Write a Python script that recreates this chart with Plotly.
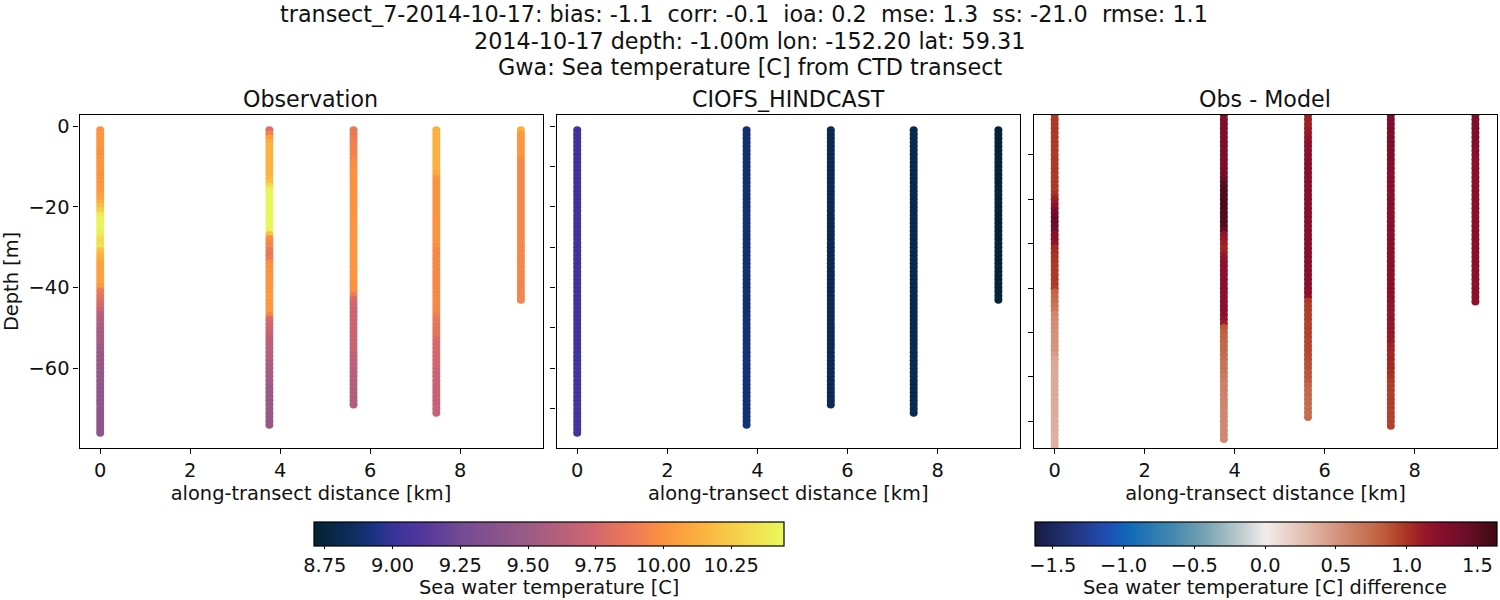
import plotly.graph_objects as go

FONT = "DejaVu Sans"

title_lines = [
    "transect_7-2014-10-17: bias: -1.1  corr: -0.1  ioa: 0.2  mse: 1.3  ss: -21.0  rmse: 1.1",
    "2014-10-17 depth: -1.00m lon: -152.20 lat: 59.31",
    "Gwa: Sea temperature [C] from CTD transect",
]
panel_titles = ["Observation", "CIOFS_HINDCAST", "Obs - Model"]
colorbar_titles = ["Sea water temperature [C]", "Sea water temperature [C] difference"]

# cmocean thermal and balance, sampled by eye off the colorbars
thermal = [
    [0.0, "#042333"], [0.08, "#0e2d5c"], [0.13, "#1b3384"], [0.17, "#38339a"], [0.24, "#55399b"],
    [0.31, "#724a95"], [0.38, "#86528e"], [0.455, "#9c5b86"], [0.53, "#b9607c"], [0.594, "#d0666f"],
    [0.64, "#e27260"], [0.68, "#ee7a56"], [0.743, "#fc9240"], [0.82, "#fbb03f"], [0.89, "#f8cc48"],
    [1.0, "#e8fa5b"],
]
balance = [
    [0.0, "#181c43"], [0.1, "#253a8a"], [0.16, "#1e4fb8"], [0.2, "#0f68b8"], [0.3, "#4589ae"],
    [0.37, "#77a4b4"], [0.44, "#b8c9cd"], [0.5, "#f1ecec"], [0.58, "#e3c0b2"], [0.66, "#d2907a"],
    [0.75, "#c0603f"], [0.805, "#aa3322"], [0.835, "#9c1d27"], [0.867, "#8c0f2c"], [0.93, "#6e0e2a"],
    [1.0, "#3c0912"],
]

x_ticks = [0, 2, 4, 6, 8]
y_ticks = [0, -20, -40, -60]
y_ticks_model = [0, -10, -20, -30, -40, -50, -60, -70]
y_ticks_diff = [-10, -20, -30, -40, -50, -60, -70]
temp_ticks = [8.75, 9.0, 9.25, 9.5, 9.75, 10.0, 10.25]
temp_labels = ["8.75", "9.00", "9.25", "9.50", "9.75", "10.00", "10.25"]
diff_ticks = [-1.5, -1.0, -0.5, 0.0, 0.5, 1.0, 1.5]
diff_labels = ["\u22121.5", "\u22121.0", "\u22120.5", "0.0", "0.5", "1.0", "1.5"]

distance = [0.0, 3.76, 5.63, 7.47, 9.35]
depth = [
    -1, -2, -3, -4, -5, -6, -7, -8, -9, -10, -11, -12, -13, -14, -15, -16, -17, -18, -19, -20,
    -21, -22, -23, -24, -25, -26, -27, -28, -29, -30, -31, -32, -33, -34, -35, -36, -37, -38, -39, -40,
    -41, -42, -43, -44, -45, -46, -47, -48, -49, -50, -51, -52, -53, -54, -55, -56, -57, -58, -59, -60,
    -61, -62, -63, -64, -65, -66, -67, -68, -69, -70, -71, -72, -73, -74, -75, -76,
]

obs_0 = [
    10.0, 10.01, 10.02, 10.02, 10.01, 10.0, 10.0, 10.01, 10.02, 10.02, 10.01, 10.0, 10.0, 10.01, 10.02, 10.03, 10.05, 10.08, 10.12, 10.18,
    10.25, 10.36, 10.42, 10.43, 10.43, 10.42, 10.4, 10.33, 10.32, 10.36, 10.2, 10.14, 10.12, 10.08, 10.07, 10.07, 10.07, 10.07, 10.06, 10.02,
    9.88, 9.85, 9.82, 9.77, 9.74, 9.68, 9.62, 9.6, 9.58, 9.57, 9.56, 9.55, 9.55, 9.54, 9.5, 9.48, 9.47, 9.47, 9.46, 9.46,
    9.45, 9.45, 9.45, 9.45, 9.44, 9.44, 9.44, 9.44, 9.43, 9.43, 9.43, 9.43, 9.42, 9.42, 9.41, 9.41,
]
obs_1 = [
    9.8, 9.92, 10.05, 10.12, 10.15, 10.16, 10.16, 10.15, 10.15, 10.15, 10.15, 10.15, 10.17, 10.2, 10.32, 10.42, 10.43, 10.43, 10.43, 10.43,
    10.43, 10.43, 10.43, 10.43, 10.42, 10.42, 10.2, 9.98, 9.96, 9.94, 9.88, 9.87, 9.9, 9.98, 10.0, 10.01, 10.01, 10.01, 10.01, 10.03,
    10.03, 10.04, 10.04, 10.03, 10.03, 10.02, 9.95, 9.78, 9.75, 9.74, 9.72, 9.68, 9.66, 9.65, 9.64, 9.63, 9.62, 9.6, 9.58, 9.56,
    9.55, 9.54, 9.53, 9.52, 9.5, 9.5, 9.49, 9.49, 9.48, 9.48, 9.47, 9.47, 9.47, 9.47,
]
obs_2 = [
    9.86, 9.87, 9.88, 9.92, 9.92, 9.92, 9.93, 9.94, 9.97, 9.98, 9.99, 10.0, 10.0, 10.0, 10.0, 10.0, 10.0, 10.0, 10.0, 10.0,
    10.0, 10.0, 10.01, 10.01, 10.01, 10.01, 10.01, 10.02, 10.02, 10.02, 10.02, 10.02, 10.02, 10.02, 10.01, 10.01, 10.01, 10.01, 10.0, 10.0,
    9.98, 9.9, 9.78, 9.75, 9.73, 9.72, 9.72, 9.72, 9.72, 9.71, 9.71, 9.71, 9.7, 9.7, 9.7, 9.68, 9.67, 9.66, 9.65, 9.64,
    9.63, 9.62, 9.62, 9.61, 9.61, 9.6, 9.6, 9.6, 9.6,
]
obs_3 = [
    10.13, 10.13, 10.13, 10.13, 10.13, 10.13, 10.13, 10.13, 10.13, 10.13, 10.12, 10.1, 10.03, 10.0, 10.0, 10.0, 10.0, 10.0, 10.0, 10.0,
    10.0, 10.0, 10.0, 10.0, 10.0, 10.0, 10.0, 10.0, 10.0, 9.98, 9.96, 9.96, 9.96, 9.96, 9.96, 9.96, 9.96, 9.96, 9.96, 9.96,
    9.96, 9.96, 9.96, 9.96, 9.95, 9.95, 9.92, 9.87, 9.86, 9.85, 9.85, 9.84, 9.78, 9.77, 9.76, 9.76, 9.75, 9.75, 9.74, 9.73,
    9.71, 9.7, 9.7, 9.7, 9.69, 9.69, 9.69, 9.69, 9.68, 9.68, 9.68,
]
obs_4 = [
    10.13, 10.04, 10.03, 10.03, 10.02, 10.02, 10.02, 10.0, 9.96, 9.95, 9.95, 9.95, 9.95, 9.95, 9.95, 9.95, 9.95, 9.95, 9.95, 9.95,
    9.95, 9.95, 9.95, 9.95, 9.95, 9.95, 9.95, 9.95, 9.95, 9.95, 9.95, 9.95, 9.95, 9.95, 9.95, 9.95, 9.95, 9.94, 9.94, 9.94,
    9.94, 9.94, 9.94,
]
obs_values = [obs_0, obs_1, obs_2, obs_3, obs_4]

model_0 = [
    9.03, 9.03, 9.03, 9.03, 9.03, 9.03, 9.03, 9.03, 9.03, 9.03, 9.03, 9.03, 9.03, 9.03, 9.03, 9.03, 9.03, 9.03, 9.03, 9.03,
    9.03, 9.03, 9.03, 9.03, 9.03, 9.03, 9.03, 9.03, 9.03, 9.03, 9.03, 9.03, 9.03, 9.03, 9.03, 9.03, 9.03, 9.03, 9.03, 9.03,
    9.03, 9.03, 9.03, 9.03, 9.04, 9.04, 9.04, 9.04, 9.04, 9.04, 9.04, 9.04, 9.04, 9.04, 9.04, 9.04, 9.04, 9.04, 9.05, 9.05,
    9.05, 9.05, 9.05, 9.05, 9.05, 9.05, 9.05, 9.05, 9.05, 9.05, 9.05, 9.05, 9.05, 9.05, 9.05, 9.05,
]
model_1 = [
    8.89, 8.89, 8.89, 8.89, 8.89, 8.89, 8.89, 8.89, 8.89, 8.89, 8.89, 8.89, 8.89, 8.89, 8.89, 8.89, 8.89, 8.89, 8.89, 8.89,
    8.89, 8.89, 8.89, 8.89, 8.89, 8.89, 8.89, 8.89, 8.89, 8.89, 8.89, 8.89, 8.89, 8.89, 8.89, 8.89, 8.89, 8.89, 8.89, 8.89,
    8.89, 8.89, 8.89, 8.89, 8.89, 8.89, 8.89, 8.9, 8.9, 8.9, 8.9, 8.9, 8.9, 8.9, 8.9, 8.9, 8.9, 8.9, 8.9, 8.9,
    8.9, 8.9, 8.9, 8.9, 8.9, 8.9, 8.9, 8.9, 8.9, 8.9, 8.9, 8.9, 8.9, 8.9,
]
model_2 = [
    8.81, 8.81, 8.81, 8.81, 8.81, 8.81, 8.81, 8.81, 8.81, 8.81, 8.81, 8.81, 8.81, 8.81, 8.81, 8.81, 8.81, 8.81, 8.81, 8.81,
    8.81, 8.81, 8.81, 8.81, 8.81, 8.81, 8.81, 8.81, 8.81, 8.81, 8.81, 8.81, 8.81, 8.81, 8.81, 8.81, 8.81, 8.81, 8.81, 8.81,
    8.81, 8.81, 8.82, 8.82, 8.82, 8.82, 8.82, 8.82, 8.82, 8.82, 8.82, 8.82, 8.82, 8.82, 8.82, 8.82, 8.82, 8.82, 8.82, 8.82,
    8.82, 8.82, 8.82, 8.82, 8.82, 8.82, 8.82, 8.82, 8.82,
]
model_3 = [
    8.8, 8.8, 8.8, 8.8, 8.8, 8.8, 8.8, 8.8, 8.8, 8.8, 8.8, 8.8, 8.8, 8.8, 8.8, 8.8, 8.8, 8.8, 8.8, 8.8,
    8.8, 8.8, 8.8, 8.8, 8.8, 8.8, 8.8, 8.8, 8.8, 8.8, 8.8, 8.8, 8.8, 8.8, 8.8, 8.8, 8.8, 8.8, 8.8, 8.8,
    8.8, 8.8, 8.8, 8.8, 8.8, 8.8, 8.8, 8.8, 8.8, 8.8, 8.8, 8.8, 8.81, 8.81, 8.81, 8.81, 8.81, 8.81, 8.81, 8.81,
    8.81, 8.81, 8.81, 8.81, 8.81, 8.81, 8.81, 8.81, 8.81, 8.81, 8.81,
]
model_4 = [
    8.73, 8.73, 8.73, 8.73, 8.73, 8.73, 8.73, 8.73, 8.73, 8.73, 8.73, 8.73, 8.73, 8.73, 8.73, 8.73, 8.73, 8.73, 8.73, 8.73,
    8.73, 8.73, 8.73, 8.73, 8.73, 8.73, 8.73, 8.73, 8.73, 8.73, 8.73, 8.73, 8.73, 8.73, 8.73, 8.73, 8.73, 8.73, 8.73, 8.73,
    8.73, 8.73, 8.73,
]
model_values = [model_0, model_1, model_2, model_3, model_4]

diff_0 = [
    0.97, 0.97, 0.97, 0.97, 0.97, 0.97, 0.97, 0.97, 0.97, 0.97, 0.97, 0.97, 0.97, 0.97, 0.97, 0.97, 0.98, 0.98, 1.0, 1.08,
    1.15, 1.22, 1.36, 1.42, 1.45, 1.42, 1.36, 1.22, 1.2, 1.18, 1.05, 1.03, 1.0, 0.98, 0.98, 0.97, 0.97, 0.97, 0.97, 0.96,
    0.78, 0.76, 0.74, 0.7, 0.66, 0.58, 0.56, 0.54, 0.53, 0.52, 0.51, 0.5, 0.5, 0.49, 0.47, 0.41, 0.4, 0.39, 0.39, 0.38,
    0.38, 0.38, 0.38, 0.38, 0.37, 0.37, 0.37, 0.37, 0.36, 0.36, 0.36, 0.36, 0.35, 0.35, 0.35, 0.35,
]
diff_1 = [
    1.25, 1.27, 1.3, 1.3, 1.3, 1.3, 1.3, 1.3, 1.3, 1.31, 1.32, 1.32, 1.32, 1.33, 1.36, 1.45, 1.52, 1.54, 1.55, 1.55,
    1.55, 1.55, 1.55, 1.55, 1.54, 1.53, 1.45, 1.16, 1.12, 1.08, 1.05, 1.08, 1.15, 1.19, 1.2, 1.2, 1.2, 1.2, 1.2, 1.2,
    1.2, 1.2, 1.2, 1.2, 1.2, 1.19, 1.15, 1.1, 0.85, 0.82, 0.8, 0.78, 0.77, 0.76, 0.75, 0.72, 0.7, 0.69, 0.68, 0.66,
    0.63, 0.62, 0.62, 0.61, 0.6, 0.6, 0.59, 0.58, 0.58, 0.58, 0.57, 0.57, 0.57, 0.57,
]
diff_2 = [
    1.08, 1.08, 1.08, 1.09, 1.12, 1.15, 1.18, 1.2, 1.2, 1.21, 1.22, 1.22, 1.22, 1.22, 1.22, 1.22, 1.22, 1.22, 1.22, 1.22,
    1.22, 1.22, 1.22, 1.22, 1.22, 1.22, 1.22, 1.22, 1.22, 1.22, 1.22, 1.22, 1.22, 1.22, 1.22, 1.22, 1.22, 1.22, 1.22, 1.21,
    1.2, 1.18, 0.98, 0.96, 0.95, 0.95, 0.95, 0.94, 0.94, 0.93, 0.93, 0.92, 0.92, 0.92, 0.91, 0.9, 0.88, 0.87, 0.86, 0.85,
    0.84, 0.78, 0.77, 0.76, 0.75, 0.75, 0.74, 0.74, 0.74,
]
diff_3 = [
    1.3, 1.3, 1.3, 1.3, 1.3, 1.3, 1.3, 1.3, 1.3, 1.3, 1.28, 1.24, 1.22, 1.22, 1.22, 1.22, 1.22, 1.22, 1.22, 1.22,
    1.22, 1.22, 1.21, 1.21, 1.21, 1.21, 1.21, 1.21, 1.21, 1.21, 1.2, 1.2, 1.2, 1.2, 1.2, 1.2, 1.2, 1.2, 1.2, 1.2,
    1.2, 1.2, 1.18, 1.16, 1.15, 1.15, 1.15, 1.15, 1.14, 1.14, 1.13, 1.12, 1.08, 1.06, 1.05, 1.05, 1.04, 1.04, 1.02, 1.0,
    0.97, 0.96, 0.96, 0.95, 0.95, 0.95, 0.95, 0.94, 0.94, 0.94, 0.94,
]
diff_4 = [
    1.28, 1.28, 1.28, 1.28, 1.28, 1.28, 1.28, 1.26, 1.22, 1.21, 1.2, 1.2, 1.2, 1.2, 1.2, 1.2, 1.2, 1.2, 1.2, 1.2,
    1.2, 1.2, 1.2, 1.2, 1.2, 1.2, 1.2, 1.2, 1.2, 1.2, 1.2, 1.2, 1.2, 1.2, 1.2, 1.2, 1.2, 1.2, 1.2, 1.2,
    1.2, 1.2, 1.2,
]
diff_values = [diff_0, diff_1, diff_2, diff_3, diff_4]

panel_values = [obs_values, model_values, diff_values]
panel_axes = ["coloraxis", "coloraxis", "coloraxis2"]

fig = go.Figure()

for p, profiles in enumerate(panel_values):
    suffix = "" if p == 0 else str(p + 1)
    for dist, vals in zip(distance, profiles):
        fig.add_trace(go.Scatter(
            x=[dist] * len(vals),
            y=depth[:len(vals)],
            mode="markers",
            xaxis="x" + suffix,
            yaxis="y" + suffix,
            showlegend=False,
            marker=dict(size=8, color=vals, coloraxis=panel_axes[p], line=dict(width=0)),
            hovertemplate="%{x} km, %{y} m: %{marker.color}<extra></extra>",
        ))


def x_axis(left, right):
    return dict(
        domain=[left / 1500, right / 1500],
        range=[-0.46, 9.83],
        tickvals=x_ticks,
        ticks="outside", ticklen=5, tickwidth=1, tickcolor="black",
        showline=True, mirror=True, linecolor="black", linewidth=1.2,
        showgrid=False, zeroline=False,
        tickfont=dict(size=19.4, color="#111"),
        title=dict(text="along-transect distance [km]", font=dict(size=19.4, color="#111"), standoff=2),
    )


def y_axis(yrange, ticks, labels=False):
    return dict(
        domain=[1 - 448 / 600, 1 - 115 / 600],
        range=yrange,
        tickvals=ticks,
        ticktext=[str(t).replace("-", "\u2212") for t in ticks] if labels else [""] * len(ticks),
        ticks="outside", ticklen=5, tickwidth=1, tickcolor="black",
        showline=True, mirror=True, linecolor="black", linewidth=1.2,
        showgrid=False, zeroline=False,
        tickfont=dict(size=19.4, color="#111"),
    )


fig.update_layout(
    width=1500,
    height=600,
    margin=dict(l=0, r=0, t=0, b=0, autoexpand=False),
    paper_bgcolor="white",
    plot_bgcolor="white",
    font=dict(family=FONT, color="#111"),
    xaxis=x_axis(79.5, 542.5),
    xaxis2=x_axis(556.5, 1020),
    xaxis3=x_axis(1034, 1497),
    yaxis=dict(y_axis([-79.75, 2.75], y_ticks, labels=True),
               title=dict(text="Depth [m]", font=dict(size=19.4, color="#111"), standoff=6)),
    yaxis2=dict(y_axis([-79.75, 2.75], y_ticks_model), anchor="x2"),
    yaxis3=dict(y_axis([-76, -1], y_ticks_diff), anchor="x3"),
    coloraxis=dict(
        colorscale=thermal, cmin=8.71, cmax=10.445,
        colorbar=dict(
            orientation="h", lenmode="pixels", len=470, thickness=24,
            xref="container", yref="container", x=549 / 1500, xanchor="center",
            y=1 - 521.5 / 600, yanchor="top", xpad=0, ypad=0,
            outlinecolor="black", outlinewidth=1.2,
            tickvals=temp_ticks, ticktext=temp_labels,
            ticks="outside", ticklen=3, tickwidth=1, tickcolor="black",
            tickfont=dict(size=19.4, color="#111"),
        ),
    ),
    coloraxis2=dict(
        colorscale=balance, cmin=-1.63, cmax=1.635,
        colorbar=dict(
            orientation="h", lenmode="pixels", len=462, thickness=24,
            xref="container", yref="container", x=1265.5 / 1500, xanchor="center",
            y=1 - 521.5 / 600, yanchor="top", xpad=0, ypad=0,
            outlinecolor="black", outlinewidth=1.2,
            tickvals=diff_ticks, ticktext=diff_labels,
            ticks="outside", ticklen=3, tickwidth=1, tickcolor="black",
            tickfont=dict(size=19.4, color="#111"),
        ),
    ),
)

for line, cx, py in zip(title_lines, [743.5, 749.5, 749.5], [14, 41, 67]):
    fig.add_annotation(text=line, x=cx / 1500, y=1 - py / 600, xref="paper", yref="paper",
                       xanchor="center", yanchor="middle", showarrow=False,
                       font=dict(size=22.3, color="#111"))

for name, cx in zip(panel_titles, [310.5, 788, 1264.5]):
    fig.add_annotation(text=name, x=cx / 1500, y=1 - 99.5 / 600, xref="paper", yref="paper",
                       xanchor="center", yanchor="middle", showarrow=False,
                       font=dict(size=22.2, color="#111"))

for name, cx in zip(colorbar_titles, [548.5, 1264.5]):
    fig.add_annotation(text=name, x=cx / 1500, y=1 - 587 / 600, xref="paper", yref="paper",
                       xanchor="center", yanchor="middle", showarrow=False,
                       font=dict(size=19.4, color="#111"))

fig.write_html("out.html", config=dict(displayModeBar=False), post_script="document.body.style.margin='0';")
